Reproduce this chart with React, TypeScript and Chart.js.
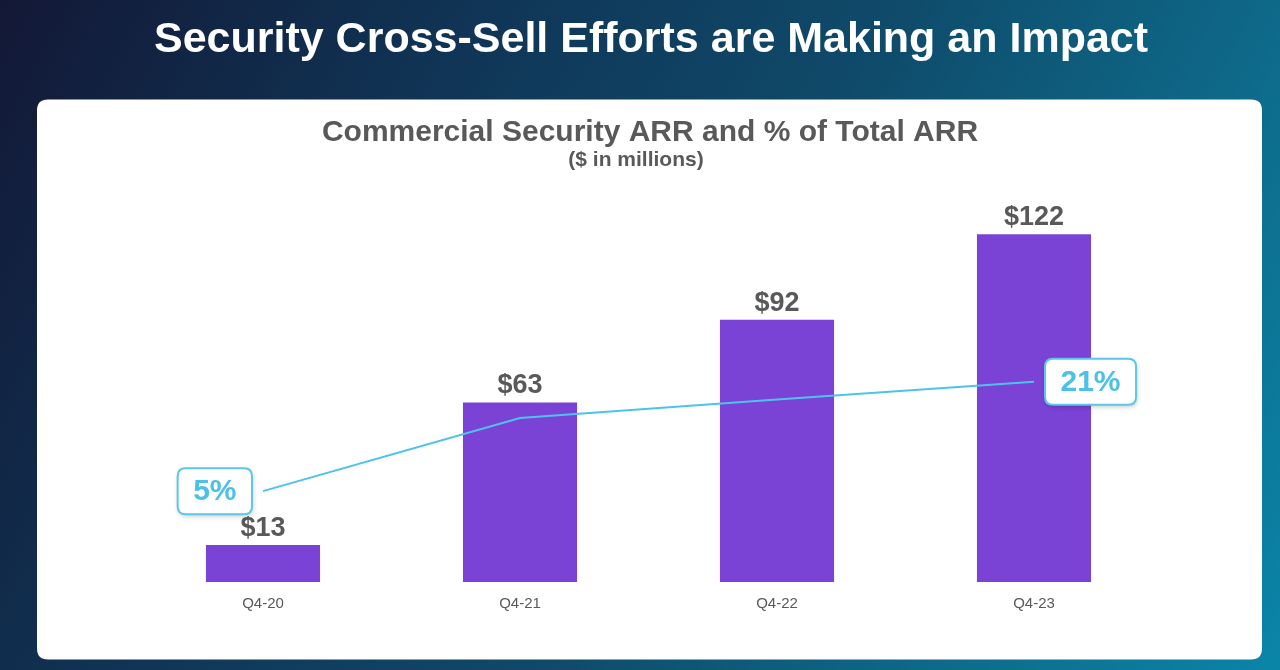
import React, { useEffect, useRef } from "react";
import { Chart, registerables } from "chart.js";

Chart.register(...registerables);

const categories = ["Q4-20", "Q4-21", "Q4-22", "Q4-23"];
const arrValues = [13, 63, 92, 122];
const arrLabels = ["$13", "$63", "$92", "$122"];
const pctValues = [5, 15.7, 18.4, 21];
const pctLabels = ["5%", "", "", "21%"];

const mainTitle = "Security Cross-Sell Efforts are Making an Impact";
const chartTitle = "Commercial Security ARR and % of Total ARR";
const chartSubtitle = "($ in millions)";

const FONT = '"Liberation Sans", Arial, Helvetica, sans-serif';
const GREY = "#595959";
const PURPLE = "#7B42D6";
const CYAN = "#4EC3EA";

function roundRect(ctx: CanvasRenderingContext2D, x: number, y: number, w: number, h: number, r: number) {
  ctx.beginPath();
  ctx.moveTo(x + r, y);
  ctx.lineTo(x + w - r, y);
  ctx.quadraticCurveTo(x + w, y, x + w, y + r);
  ctx.lineTo(x + w, y + h - r);
  ctx.quadraticCurveTo(x + w, y + h, x + w - r, y + h);
  ctx.lineTo(x + r, y + h);
  ctx.quadraticCurveTo(x, y + h, x, y + h - r);
  ctx.lineTo(x, y + r);
  ctx.quadraticCurveTo(x, y, x + r, y);
  ctx.closePath();
}

const backgroundPlugin = {
  id: "slideBackground",
  beforeDraw(chart: any) {
    const ctx: CanvasRenderingContext2D = chart.ctx;
    const W = chart.width;
    const H = chart.height;
    ctx.save();
    const g = ctx.createLinearGradient(0, 0, W, H);
    g.addColorStop(0, "#131836");
    g.addColorStop(0.3, "#103556");
    g.addColorStop(0.55, "#0f4a6a");
    g.addColorStop(0.8, "#0e6b8b");
    g.addColorStop(1, "#0a85a8");
    ctx.fillStyle = g;
    ctx.fillRect(0, 0, W, H);
    // card
    roundRect(ctx, 37, 99.5, 1225, 560, 11);
    ctx.fillStyle = "#ffffff";
    ctx.fill();
    // titles
    ctx.textAlign = "center";
    ctx.textBaseline = "alphabetic";
    ctx.fillStyle = "#ffffff";
    ctx.font = `bold 43px ${FONT}`;
    ctx.fillText(mainTitle, 651, 52);
    ctx.fillStyle = GREY;
    ctx.font = `bold 30px ${FONT}`;
    ctx.fillText(chartTitle, 650, 141);
    ctx.font = `bold 21px ${FONT}`;
    ctx.fillText(chartSubtitle, 636, 166);
    ctx.restore();
  },
};

const labelsPlugin = {
  id: "valueLabels",
  afterDatasetsDraw(chart: any) {
    const ctx: CanvasRenderingContext2D = chart.ctx;
    ctx.save();
    const barMeta = chart.getDatasetMeta(0);
    ctx.textAlign = "center";
    ctx.textBaseline = "alphabetic";
    ctx.fillStyle = GREY;
    ctx.font = `bold 27px ${FONT}`;
    barMeta.data.forEach((el: any, i: number) => {
      ctx.fillText(arrLabels[i], el.x, el.y - 9);
    });

    const lineMeta = chart.getDatasetMeta(1);
    const n = lineMeta.data.length;
    ctx.font = `bold 30px ${FONT}`;
    lineMeta.data.forEach((pt: any, i: number) => {
      const txt = pctLabels[i];
      if (!txt) return;
      const tw = ctx.measureText(txt).width;
      const bw = tw + 31;
      const bh = 46;
      const gap = 11;
      const bx = i === n - 1 ? pt.x + gap : pt.x - gap - bw;
      const by = pt.y - bh / 2;
      ctx.save();
      ctx.shadowColor = "rgba(0,0,0,0.22)";
      ctx.shadowBlur = 5;
      ctx.shadowOffsetX = 1;
      ctx.shadowOffsetY = 2;
      roundRect(ctx, bx, by, bw, bh, 8);
      ctx.fillStyle = "#ffffff";
      ctx.fill();
      ctx.restore();
      roundRect(ctx, bx, by, bw, bh, 8);
      ctx.lineWidth = 2;
      ctx.strokeStyle = "#5CC6EB";
      ctx.stroke();
      ctx.fillStyle = "#4BC0E8";
      ctx.textBaseline = "middle";
      ctx.fillText(txt, bx + bw / 2, by + bh / 2 + 1);
      ctx.textBaseline = "alphabetic";
    });
    ctx.restore();
  },
};

export default function App() {
  const canvasRef = useRef<HTMLCanvasElement | null>(null);

  useEffect(() => {
    if (!canvasRef.current) return;
    const chart = new Chart(canvasRef.current, {
      type: "bar",
      data: {
        labels: categories,
        datasets: [
          {
            type: "bar",
            data: arrValues,
            backgroundColor: PURPLE,
            borderWidth: 0,
            barPercentage: 0.444,
            categoryPercentage: 1,
            yAxisID: "y",
            order: 2,
          },
          {
            type: "line",
            data: pctValues,
            borderColor: CYAN,
            borderWidth: 2,
            pointRadius: 0,
            tension: 0,
            fill: false,
            yAxisID: "y1",
            order: 1,
          },
        ] as any,
      },
      options: {
        responsive: false,
        animation: false,
        devicePixelRatio: 1,
        layout: { padding: { left: 134.5, right: 117.5, top: 183, bottom: 48 } },
        plugins: {
          legend: { display: false },
          tooltip: { enabled: false },
          title: { display: false },
        },
        scales: {
          x: {
            grid: { display: false, drawTicks: false },
            border: { display: false },
            ticks: { color: GREY, font: { family: FONT, size: 15 }, padding: 13 },
            afterFit: (scale: any) => {
              scale.height = 40;
            },
          },
          y: { display: false, min: 0, max: 140 },
          y1: { display: false, min: -8.3, max: 50.1 },
        },
      } as any,
      plugins: [backgroundPlugin, labelsPlugin],
    });
    return () => chart.destroy();
  }, []);

  return (
    <div style={{ position: "fixed", left: 0, top: 0, width: 1280, height: 670 }}>
      <canvas ref={canvasRef} width={1280} height={670} style={{ width: 1280, height: 670, display: "block" }} />
    </div>
  );
}
